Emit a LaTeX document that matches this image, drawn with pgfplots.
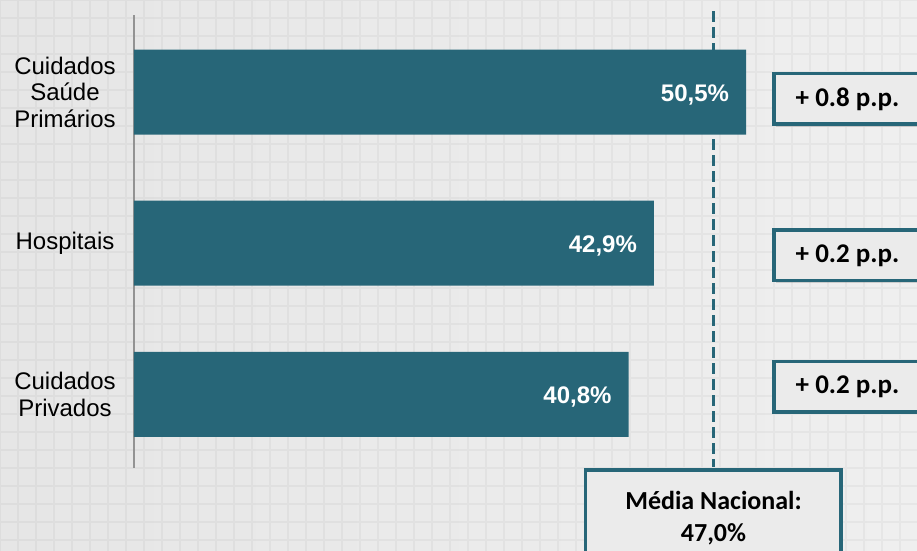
\documentclass[border=0pt]{standalone}
\usepackage{fontspec}
\setmainfont{Liberation Sans}
\newfontfamily\calibri{Carlito}
\usepackage{pgfplots}
\pgfplotsset{compat=1.18}
\usetikzlibrary{shadows}
\definecolor{barteal}{HTML}{276678}
\definecolor{bgA}{HTML}{E6E6E6}
\definecolor{bgB}{HTML}{EFEFEF}
\definecolor{boxfill}{HTML}{EBEBEB}
\begin{document}
\begin{tikzpicture}
\useasboundingbox (0,0) rectangle (458.5pt,-275.5pt);
\begin{scope}
\clip (0,0) rectangle (458.5pt,-275.5pt);
\shade[left color=bgA, right color=bgB] (0,0) rectangle (458.5pt,-275.5pt);
\draw[black, opacity=0.035, line width=1pt, step=9pt] (0,-279pt) grid (460pt,0);
\begin{axis}[at={(67pt,-7.5pt)}, anchor=north west, scale only axis,
  width=391.5pt, height=226.5pt,
  xmin=0, xmax=64.6, ymin=-0.51, ymax=2.487, y dir=reverse,
  axis x line=none, axis y line=left,
  y axis line style={-, draw=gray!85, line width=0.75pt},
  ytick={0,1,2},
  yticklabels={{Cuidados\\Saúde\\Primários}, Hospitais, {Cuidados\\Privados}},
  major tick length=0pt,
  yticklabel style={align=center, anchor=center, xshift=-34.5pt, font=\fontsize{12}{13.2}\selectfont},
  clip=false]
\addplot[xbar, fill=barteal, draw=none, bar width=42.5pt,
  nodes near coords={\pgfmathprintnumber[assume math mode=true, fixed, fixed zerofill, precision=1, use comma]{\pgfplotspointmeta}\%},
  nodes near coords style={anchor=east, xshift=-5pt, yshift=-1.5pt, text=white, font=\bfseries\fontsize{12}{14}\selectfont}]
  coordinates {(50.5,0) (42.9,1) (40.8,2)};
\addplot[barteal, line width=1.5pt, dash pattern=on 5.5pt off 2.5pt] coordinates {(47.85,-0.536) (47.85,2.483)};
\tikzset{pp/.style={overlay, draw=barteal, line width=1.75pt, fill=boxfill,
  drop shadow={opacity=0.3, shadow xshift=1pt, shadow yshift=-1.2pt},
  minimum width=73.75pt, minimum height=25.25pt, inner sep=2pt,
  font=\calibri\bfseries\fontsize{13.5}{16}\selectfont}}
\node[pp] at (axis cs:58.87,0.045) {+ 0.8 p.p.};
\node[pp] at (axis cs:58.87,1.08) {+ 0.2 p.p.};
\node[pp] at (axis cs:58.87,1.95) {+ 0.2 p.p.};
\node[pp, anchor=north, minimum width=127.75pt, minimum height=47.5pt, align=center, font=\calibri\bfseries\fontsize{13}{16}\selectfont] at (axis cs:47.81,2.49) {Média Nacional:\\47,0\%};
\end{axis}
\end{scope}
\end{tikzpicture}
\end{document}
